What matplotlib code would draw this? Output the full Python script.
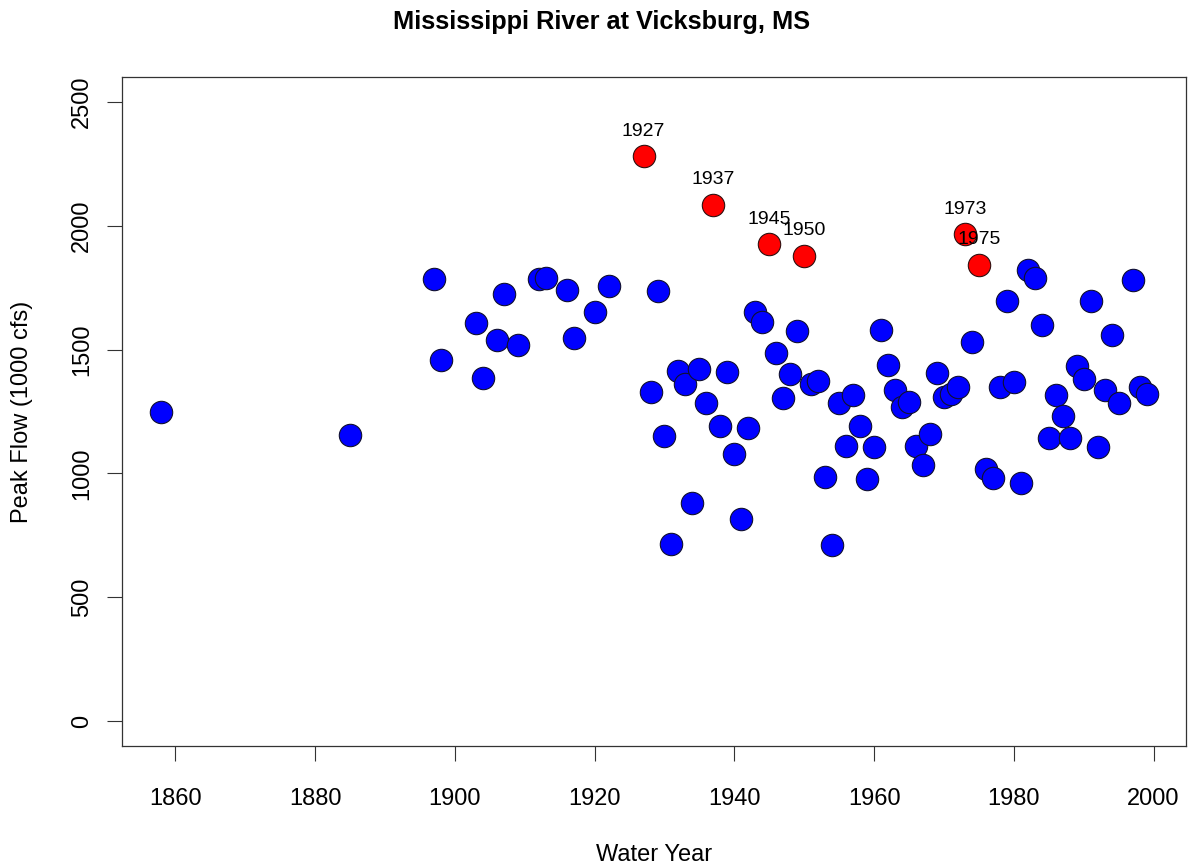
import numpy as np
import matplotlib.pyplot as plt

plt.rcParams['font.family'] = ['Liberation Sans', 'DejaVu Sans']

# annual peak flows, 1000 cfs
years = [1858, 1885, 1897, 1898, 1903, 1904, 1906, 1907, 1909, 1912, 1913, 1916,
         1917, 1920, 1922, 1927, 1928, 1929, 1930, 1931, 1932, 1933, 1934, 1935,
         1936, 1937, 1938, 1939, 1940, 1941, 1942, 1943, 1944, 1945, 1946, 1947,
         1948, 1949, 1950, 1951, 1952, 1953, 1954, 1955, 1956, 1957, 1958, 1959,
         1960, 1961, 1962, 1963, 1964, 1965, 1966, 1967, 1968, 1969, 1970, 1971,
         1972, 1973, 1974, 1975, 1976, 1977, 1978, 1979, 1980, 1981, 1982, 1983,
         1984, 1985, 1986, 1987, 1988, 1989, 1990, 1991, 1992, 1993, 1994, 1995,
         1997, 1998, 1999]
peaks = [1248, 1155, 1783, 1458, 1606, 1385, 1540, 1726, 1520, 1783, 1788, 1740,
         1545, 1652, 1755, 2280, 1330, 1735, 1150, 715, 1412, 1362, 880, 1420,
         1285, 2085, 1192, 1410, 1078, 818, 1182, 1652, 1610, 1925, 1485, 1305,
         1400, 1575, 1878, 1360, 1372, 985, 712, 1283, 1110, 1315, 1192, 978,
         1105, 1580, 1436, 1335, 1268, 1290, 1110, 1035, 1160, 1405, 1310, 1320,
         1350, 1965, 1530, 1842, 1020, 982, 1350, 1697, 1370, 960, 1820, 1790,
         1600, 1145, 1315, 1230, 1145, 1432, 1380, 1695, 1105, 1335, 1560, 1285,
         1780, 1350, 1320]
big_years = [1927, 1937, 1945, 1950, 1973, 1975]

years = np.array(years)
peaks = np.array(peaks)
is_big = np.isin(years, big_years)

fig = plt.figure(figsize=(11.89, 8.67), dpi=100)
ax = fig.add_axes([0.1026, 0.1395, 0.8949, 0.7717])

ax.scatter(years[~is_big], peaks[~is_big], s=260, c='#0000FF',
           edgecolors='#101030', linewidths=0.8, zorder=3)
ax.scatter(years[is_big], peaks[is_big], s=260, c='#FF0000',
           edgecolors='#301010', linewidths=0.8, zorder=3)
for yr, q in zip(years[is_big], peaks[is_big]):
    ax.annotate(str(yr), (yr, q), xytext=(0, 18), textcoords='offset points',
                ha='center', va='center', fontsize=14, zorder=4)

# R style default 4% padding
xr = years.max() - years.min()
ax.set_xlim(years.min() - 0.04 * xr, years.max() + 0.04 * xr)
ax.set_ylim(-100, 2600)
ax.set_xticks(np.arange(1860, 2001, 20))
ax.set_yticks(np.arange(0, 2501, 500))
ax.set_yticklabels([str(v) for v in range(0, 2501, 500)], rotation=90, va='center')

ax.tick_params(axis='both', direction='out', length=11, width=0.8,
               color='#333333', labelsize=17)
ax.tick_params(axis='x', pad=19)
ax.tick_params(axis='y', pad=10)
for sp in ax.spines.values():
    sp.set_linewidth(0.9)
    sp.set_color('#333333')

ax.set_xlabel('Water Year', fontsize=17, labelpad=25)
ax.set_ylabel('Peak Flow (1000 cfs)', fontsize=17, labelpad=27)
fig.suptitle('Mississippi River at Vicksburg, MS', fontsize=18.3,
             fontweight='bold', x=0.506, y=0.988)

fig.savefig('out.png', dpi=100)
